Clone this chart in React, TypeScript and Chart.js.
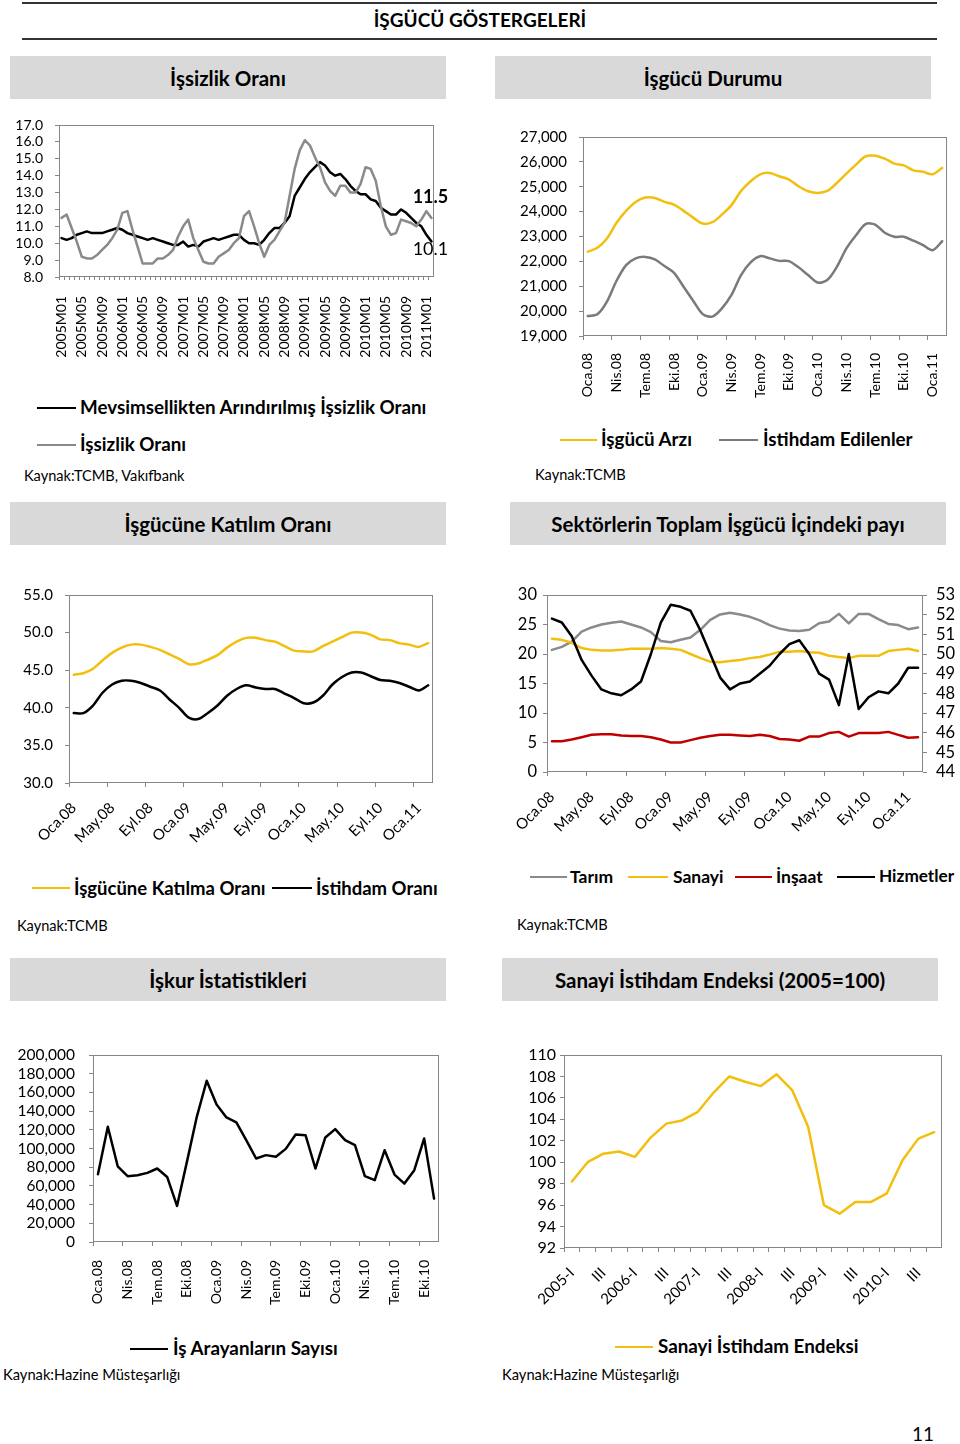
import React, { useEffect, useRef } from 'react';
import { Chart, registerables } from 'chart.js';
Chart.register(...registerables);

const FONT = 'Lato, "Open Sans", sans-serif';
const AX = '#868686';
const YELLOW = '#f2bf0f';
const GRAY = '#8a8a8a';
const DGRAY = '#7a7a7a';
const RED = '#c00000';
const BLACK = '#000000';

// ---------- DATA ----------
const trMonths = ['Oca', 'Şub', 'Mar', 'Nis', 'May', 'Haz', 'Tem', 'Ağu', 'Eyl', 'Eki', 'Kas', 'Ara'];

// Chart 1: İşsizlik Oranı (2005M01 - 2011M02)
const unempYears = [2005, 2006, 2007, 2008, 2009, 2010, 2011];
const unempMonthCount = 74;
const mevsimsel = [10.3, 10.2, 10.3, 10.5, 10.6, 10.7, 10.6, 10.6, 10.6, 10.7, 10.8, 10.9, 10.8, 10.6, 10.5, 10.4, 10.3, 10.2, 10.3, 10.2, 10.1, 10.0, 9.9, 9.9, 10.1, 9.8, 9.9, 9.8, 10.1, 10.2, 10.3, 10.2, 10.3, 10.4, 10.5, 10.5, 10.2, 10.0, 10.0, 9.9, 10.2, 10.6, 10.9, 10.9, 11.2, 11.6, 12.8, 13.3, 13.8, 14.2, 14.5, 14.8, 14.6, 14.2, 14.0, 14.1, 13.8, 13.4, 13.1, 12.9, 12.9, 12.6, 12.5, 12.1, 11.9, 11.7, 11.7, 12.0, 11.8, 11.5, 11.2, 11.0, 10.5, 10.1];
const issizlik = [11.5, 11.7, 10.9, 10.1, 9.2, 9.1, 9.1, 9.3, 9.6, 9.9, 10.3, 10.8, 11.8, 11.9, 10.8, 9.8, 8.8, 8.8, 8.8, 9.1, 9.1, 9.3, 9.6, 10.4, 11.0, 11.4, 10.3, 9.6, 8.9, 8.8, 8.8, 9.2, 9.4, 9.6, 10.0, 10.3, 11.6, 11.9, 11.0, 10.0, 9.2, 9.9, 10.2, 10.7, 11.2, 12.8, 14.4, 15.5, 16.1, 15.8, 15.1, 14.5, 13.6, 13.1, 12.8, 13.4, 13.4, 13.0, 13.0, 13.5, 14.5, 14.4, 13.7, 12.2, 11.0, 10.5, 10.6, 11.4, 11.3, 11.2, 11.0, 11.4, 11.9, 11.5];

// Chart 2: İşgücü Durumu (Oca.08 - Şub.11), bin kişi
const isgucuArzi = [22390, 22545, 22920, 23550, 24030, 24390, 24565, 24550, 24390, 24285, 24030, 23760, 23520, 23575, 23880, 24260, 24830, 25220, 25500, 25555, 25420, 25290, 25020, 24820, 24750, 24830, 25150, 25530, 25890, 26220, 26250, 26130, 25930, 25860, 25660, 25600, 25500, 25760];
const istihdamEdilenler = [19800, 19870, 20380, 21220, 21850, 22120, 22180, 22080, 21810, 21540, 20980, 20420, 19880, 19780, 20110, 20650, 21450, 21960, 22210, 22120, 22020, 22010, 21760, 21450, 21150, 21250, 21780, 22520, 23050, 23500, 23480, 23150, 22990, 22990, 22830, 22650, 22450, 22810];

// Chart 3: İşgücüne Katılım Oranı (Oca.08 - Şub.11)
const katilmaOrani = [44.4, 44.6, 45.2, 46.3, 47.3, 48.0, 48.4, 48.4, 48.1, 47.7, 47.1, 46.5, 45.8, 45.9, 46.4, 47.0, 48.0, 48.8, 49.3, 49.3, 49.0, 48.8, 48.2, 47.6, 47.5, 47.5, 48.2, 48.8, 49.4, 50.0, 50.0, 49.7, 49.1, 49.0, 48.6, 48.4, 48.1, 48.6];
const istihdamOrani = [39.3, 39.3, 40.3, 42.0, 43.1, 43.6, 43.6, 43.3, 42.8, 42.3, 41.1, 40.0, 38.7, 38.5, 39.3, 40.3, 41.6, 42.5, 43.0, 42.7, 42.5, 42.5, 41.9, 41.3, 40.6, 40.7, 41.6, 43.1, 44.1, 44.7, 44.7, 44.2, 43.7, 43.6, 43.3, 42.8, 42.3, 43.0];

// Chart 4: Sektörlerin payı (Oca.08 - Şub.11)
const tarim = [20.7, 21.2, 22.1, 23.8, 24.5, 25.0, 25.3, 25.5, 25.0, 24.5, 23.7, 22.2, 22.0, 22.4, 22.8, 24.1, 25.8, 26.7, 27.0, 26.7, 26.3, 25.7, 24.9, 24.3, 24.0, 23.9, 24.1, 25.2, 25.5, 26.8, 25.2, 26.8, 26.8, 25.9, 25.1, 24.9, 24.2, 24.5];
const sanayi = [22.6, 22.4, 21.9, 21.0, 20.7, 20.6, 20.6, 20.7, 20.9, 20.9, 20.9, 21.0, 20.9, 20.7, 20.0, 19.3, 18.7, 18.6, 18.8, 19.0, 19.3, 19.5, 19.9, 20.4, 20.4, 20.5, 20.3, 20.2, 19.7, 19.5, 19.3, 19.7, 19.7, 19.7, 20.5, 20.7, 20.9, 20.5];
const insaat = [5.2, 5.2, 5.5, 5.9, 6.3, 6.4, 6.4, 6.2, 6.1, 6.1, 5.9, 5.5, 5.0, 5.0, 5.4, 5.8, 6.1, 6.3, 6.3, 6.2, 6.1, 6.3, 6.1, 5.6, 5.5, 5.3, 6.0, 6.0, 6.6, 6.8, 6.0, 6.6, 6.6, 6.6, 6.8, 6.3, 5.8, 5.9];
const hizmetler = [51.8, 51.6, 50.9, 49.7, 48.9, 48.2, 48.0, 47.9, 48.2, 48.6, 50.0, 51.6, 52.5, 52.4, 52.2, 51.2, 50.0, 48.8, 48.2, 48.5, 48.6, 49.0, 49.4, 50.0, 50.5, 50.7, 50.0, 49.0, 48.7, 47.4, 50.0, 47.2, 47.8, 48.1, 48.0, 48.5, 49.3, 49.3];

// Chart 5: İş Arayanların Sayısı (Oca.08 - Kas.10)
const isArayanlar = [72500, 123200, 81000, 70400, 71400, 73900, 78600, 69600, 38600, 85700, 133900, 172500, 147100, 133200, 127900, 108900, 89300, 92900, 91100, 99600, 115000, 114300, 78600, 111800, 120700, 108900, 103600, 70400, 66100, 98200, 72100, 62500, 76800, 110700, 46400];

// Chart 6: Sanayi İstihdam Endeksi (2005-I - 2010-IV)
const quarterYears = ['2005', '2006', '2007', '2008', '2009', '2010'];
const quarterNames = ['I', 'II', 'III', 'IV'];
const sanayiEndeksi = [98.2, 100.0, 100.8, 101.0, 100.5, 102.3, 103.6, 103.9, 104.7, 106.5, 108.0, 107.5, 107.1, 108.2, 106.7, 103.3, 96.0, 95.2, 96.3, 96.3, 97.1, 100.2, 102.2, 102.8];

// ---------- category labels ----------
const unempLabels: string[] = [];
unempYears.forEach((y) => {
  for (let m = 1; m <= 12; m++) unempLabels.push(`${y}M${m < 10 ? '0' + m : m}`);
});
unempLabels.length = unempMonthCount;

function monthLabels(startYY: number, count: number) {
  const out: string[] = [];
  for (let i = 0; i < count; i++) {
    const yy = startYY + Math.floor(i / 12);
    out.push(`${trMonths[i % 12]}.${yy < 10 ? '0' + yy : yy}`);
  }
  return out;
}
const labels38 = monthLabels(8, 38);
const labels35 = monthLabels(8, 35);
const quarterLabels: string[] = [];
quarterYears.forEach((y) => quarterNames.forEach((q, i) => quarterLabels.push(i === 0 ? `${y}-${q}` : q)));

// ---------- helpers ----------
type Rect = { cl: number; ct: number; cr: number; cb: number; L: number; T: number; R: number; B: number };

const framePlugin = {
  id: 'frame',
  beforeDatasetsDraw(chart: any) {
    const { ctx, chartArea: a } = chart;
    ctx.save();
    ctx.strokeStyle = AX;
    ctx.lineWidth = 1;
    const l = Math.round(a.left) + 0.5;
    const t = Math.round(a.top) + 0.5;
    const r = Math.round(a.right) - 0.5;
    const b = Math.round(a.bottom) - 0.5;
    ctx.strokeRect(l, t, r - l, b - t);
    ctx.restore();
  },
};

function xScale(r: Rect, o: { every: number; rot: number; pad: number; size: number; gridEvery: number; tick?: number }) {
  return {
    type: 'category',
    offset: true,
    grid: {
      display: true,
      offset: true,
      drawOnChartArea: false,
      drawTicks: true,
      tickLength: o.tick ?? 4,
      lineWidth: 1,
      color: (c: any) => (typeof c.index === 'number' && c.index % o.gridEvery === 0 ? AX : 'rgba(0,0,0,0)'),
    },
    border: { display: false },
    ticks: {
      autoSkip: false,
      minRotation: o.rot,
      maxRotation: o.rot,
      padding: o.pad,
      color: '#000',
      font: { family: FONT, size: o.size },
      callback: function (this: any, v: any, i: number) {
        return i % o.every === 0 ? this.getLabelForValue(v) : '';
      },
    },
    afterFit(s: any) {
      s.height = r.cb - r.B;
      s.paddingLeft = 0;
      s.paddingRight = 0;
    },
  };
}

function yScale(r: Rect, o: { min: number; max: number; step: number; pad: number; size: number; fmt: (v: number) => string; right?: boolean }) {
  return {
    type: 'linear',
    position: o.right ? 'right' : 'left',
    min: o.min,
    max: o.max,
    grid: { drawOnChartArea: false, drawTicks: true, tickLength: 4, color: AX },
    border: { display: false },
    ticks: {
      autoSkip: false,
      stepSize: o.step,
      padding: o.pad,
      color: '#000',
      font: { family: FONT, size: o.size },
      callback: (v: any) => o.fmt(Number(v)),
    },
    afterFit(s: any) {
      s.width = o.right ? r.cr - r.R : r.L - r.cl;
      s.paddingTop = 0;
      s.paddingBottom = 0;
    },
  };
}

function baseOptions(r: Rect, hasRight: boolean, scales: any) {
  return {
    animation: false,
    responsive: false,
    maintainAspectRatio: false,
    layout: { padding: { left: 0, top: r.T - r.ct, right: hasRight ? 0 : r.cr - r.R, bottom: 0 } },
    plugins: { legend: { display: false }, tooltip: { enabled: false } },
    elements: { point: { radius: 0 }, line: { borderWidth: 2.5, borderJoinStyle: 'round', borderCapStyle: 'round' } },
    scales,
  };
}

const lastLabelPlugin = {
  id: 'lastLabel',
  afterDatasetsDraw(chart: any) {
    const ctx = chart.ctx;
    chart.data.datasets.forEach((ds: any, di: number) => {
      if (!ds.lastLabel) return;
      const meta = chart.getDatasetMeta(di);
      const pt = meta.data[meta.data.length - 1];
      const v = ds.data[ds.data.length - 1];
      ctx.save();
      ctx.fillStyle = '#000';
      ctx.font = `${ds.lastLabel.bold ? 'bold ' : ''}18px ${FONT}`;
      ctx.textAlign = 'center';
      ctx.textBaseline = 'middle';
      ctx.fillText(Number(v).toFixed(1), pt.x + ds.lastLabel.dx, pt.y + ds.lastLabel.dy);
      ctx.restore();
    });
  },
};

function ChartCanvas({ rect, build }: { rect: Rect; build: () => any }) {
  const ref = useRef<HTMLCanvasElement>(null);
  useEffect(() => {
    const c = new Chart(ref.current as HTMLCanvasElement, build());
    return () => c.destroy();
  }, []);
  const w = rect.cr - rect.cl;
  const h = rect.cb - rect.ct;
  return <canvas ref={ref} width={w} height={h} style={{ position: 'absolute', left: rect.cl, top: rect.ct, width: w, height: h }} />;
}

// ---------- chart configs ----------
const r1: Rect = { cl: 10, ct: 112, cr: 458, cb: 365, L: 59, T: 125, R: 434, B: 277 };
const r2: Rect = { cl: 505, ct: 125, cr: 953, cb: 415, L: 583, T: 137, R: 947, B: 336 };
const r3: Rect = { cl: 10, ct: 585, cr: 445, cb: 860, L: 69, T: 595, R: 433, B: 783 };
const r4: Rect = { cl: 505, ct: 585, cr: 960, cb: 860, L: 547, T: 595, R: 923, B: 772 };
const r5: Rect = { cl: 5, ct: 1045, cr: 450, cb: 1320, L: 93, T: 1055, R: 439, B: 1242 };
const r6: Rect = { cl: 505, ct: 1045, cr: 955, cb: 1320, L: 564, T: 1055, R: 942, B: 1248 };

const f1 = (v: number) => v.toFixed(1);
const f0 = (v: number) => String(Math.round(v));
const fc = (v: number) => v.toLocaleString('en-US');

const line = (label: string, data: number[], color: string, order: number, extra: any = {}) => ({
  label, data, borderColor: color, backgroundColor: color, fill: false, order, ...extra,
});

const build1 = () => ({
  type: 'line',
  data: {
    labels: unempLabels,
    datasets: [
      line('İşsizlik Oranı', issizlik, GRAY, 0, { lastLabel: { bold: true, dx: -1, dy: -21 } }),
      line('Mevsimsellikten Arındırılmış İşsizlik Oranı', mevsimsel, BLACK, 1, { lastLabel: { bold: false, dx: -1, dy: 8 } }),
    ],
  },
  options: baseOptions(r1, false, {
    x: xScale(r1, { every: 4, rot: 90, pad: 16, size: 14, gridEvery: 1, tick: 3 }),
    y: yScale(r1, { min: 8, max: 17, step: 1, pad: 12, size: 14, fmt: f1 }),
  }),
  plugins: [framePlugin, lastLabelPlugin],
});

const build2 = () => ({
  type: 'line',
  data: {
    labels: labels38,
    datasets: [
      line('İşgücü Arzı', isgucuArzi, YELLOW, 1, { tension: 0.3 }),
      line('İstihdam Edilenler', istihdamEdilenler, DGRAY, 0, { tension: 0.3 }),
    ],
  },
  options: baseOptions(r2, false, {
    x: xScale(r2, { every: 3, rot: 90, pad: 13, size: 14, gridEvery: 3 }),
    y: yScale(r2, { min: 19000, max: 27000, step: 1000, pad: 12, size: 15, fmt: fc }),
  }),
  plugins: [framePlugin],
});

const build3 = () => ({
  type: 'line',
  data: {
    labels: labels38,
    datasets: [
      line('İşgücüne Katılma Oranı', katilmaOrani, YELLOW, 1, { tension: 0.3 }),
      line('İstihdam Oranı', istihdamOrani, BLACK, 0, { tension: 0.3 }),
    ],
  },
  options: baseOptions(r3, false, {
    x: xScale(r3, { every: 4, rot: 45, pad: 12, size: 15, gridEvery: 4 }),
    y: yScale(r3, { min: 30, max: 55, step: 5, pad: 12, size: 15, fmt: f1 }),
  }),
  plugins: [framePlugin],
});

const build4 = () => ({
  type: 'line',
  data: {
    labels: labels38,
    datasets: [
      line('Tarım', tarim, GRAY, 3, { yAxisID: 'y' }),
      line('Sanayi', sanayi, YELLOW, 2, { yAxisID: 'y' }),
      line('İnşaat', insaat, RED, 1, { yAxisID: 'y' }),
      line('Hizmetler', hizmetler, BLACK, 0, { yAxisID: 'y1' }),
    ],
  },
  options: baseOptions(r4, true, {
    x: xScale(r4, { every: 4, rot: 45, pad: 12, size: 15, gridEvery: 4 }),
    y: yScale(r4, { min: 0, max: 30, step: 5, pad: 6, size: 16.5, fmt: f0 }),
    y1: yScale(r4, { min: 44, max: 53, step: 1, pad: 9, size: 16.5, fmt: f0, right: true }),
  }),
  plugins: [framePlugin],
});

const build5 = () => ({
  type: 'line',
  data: {
    labels: labels35,
    datasets: [line('İş Arayanların Sayısı', isArayanlar, BLACK, 0)],
  },
  options: baseOptions(r5, false, {
    x: xScale(r5, { every: 3, rot: 90, pad: 14, size: 14, gridEvery: 3 }),
    y: yScale(r5, { min: 0, max: 200000, step: 20000, pad: 14, size: 15.5, fmt: fc }),
  }),
  plugins: [framePlugin],
});

const build6 = () => ({
  type: 'line',
  data: {
    labels: quarterLabels,
    datasets: [line('Sanayi İstihdam Endeksi', sanayiEndeksi, YELLOW, 0)],
  },
  options: baseOptions(r6, false, {
    x: xScale(r6, { every: 2, rot: 45, pad: 12, size: 15, gridEvery: 1 }),
    y: yScale(r6, { min: 92, max: 110, step: 2, pad: 4, size: 16, fmt: f0 }),
  }),
  plugins: [framePlugin],
});

// ---------- HTML pieces ----------
function Txt({ x, y, size, bold, children }: { x: number; y: number; size: number; bold?: boolean; children: any }) {
  return (
    <div
      style={{
        position: 'absolute', left: x, top: y - size * 0.62, fontSize: size, lineHeight: `${size * 1.2}px`,
        fontWeight: bold ? 700 : 400, whiteSpace: 'nowrap', color: '#000', fontFamily: FONT,
      }}
    >
      {children}
    </div>
  );
}

function LegLine({ x1, x2, y, color }: { x1: number; x2: number; y: number; color: string }) {
  return <div style={{ position: 'absolute', left: x1, top: y - 1.25, width: x2 - x1, height: 2.5, background: color }} />;
}

function Header({ x, y, text }: { x: number; y: number; text: string }) {
  return (
    <div
      style={{
        position: 'absolute', left: x, top: y, width: 436, height: 43, background: '#d9d9d9', display: 'flex',
        alignItems: 'center', justifyContent: 'center', fontFamily: FONT, fontWeight: 700, fontSize: 20.5, color: '#000',
      }}
    >
      {text}
    </div>
  );
}

export default function App() {
  return (
    <div style={{ position: 'absolute', left: 0, top: 0, width: 960, height: 1444, background: '#fff', fontFamily: FONT, overflow: 'hidden' }}>
      <div style={{ position: 'absolute', left: 22, top: 2, width: 915, height: 1.5, background: '#333' }} />
      <div style={{ position: 'absolute', left: 0, top: 8, width: 960, textAlign: 'center', fontSize: 19, fontWeight: 700, lineHeight: '24px' }}>İŞGÜCÜ GÖSTERGELERİ</div>
      <div style={{ position: 'absolute', left: 22, top: 38, width: 915, height: 1.5, background: '#333' }} />

      <Header x={10} y={56} text="İşsizlik Oranı" />
      <Header x={495} y={56} text="İşgücü Durumu" />
      <Header x={10} y={502} text="İşgücüne Katılım Oranı" />
      <Header x={510} y={502} text="Sektörlerin Toplam İşgücü İçindeki payı" />
      <Header x={10} y={958} text="İşkur İstatistikleri" />
      <Header x={502} y={958} text="Sanayi İstihdam Endeksi (2005=100)" />

      <ChartCanvas rect={r1} build={build1} />
      <ChartCanvas rect={r2} build={build2} />
      <ChartCanvas rect={r3} build={build3} />
      <ChartCanvas rect={r4} build={build4} />
      <ChartCanvas rect={r5} build={build5} />
      <ChartCanvas rect={r6} build={build6} />

      {/* legend 1 */}
      <LegLine x1={37} x2={76} y={408} color={BLACK} />
      <Txt x={80} y={408} size={18.8} bold>Mevsimsellikten Arındırılmış İşsizlik Oranı</Txt>
      <LegLine x1={37} x2={76} y={445} color={GRAY} />
      <Txt x={80} y={445} size={18.8} bold>İşsizlik Oranı</Txt>
      <Txt x={24} y={476} size={14.6}>Kaynak:TCMB, Vakıfbank</Txt>

      {/* legend 2 */}
      <LegLine x1={560} x2={597} y={440} color={YELLOW} />
      <Txt x={601} y={440} size={18.8} bold>İşgücü Arzı</Txt>
      <LegLine x1={719} x2={758} y={440} color={DGRAY} />
      <Txt x={763} y={440} size={18.8} bold>İstihdam Edilenler</Txt>
      <Txt x={535} y={475} size={14.6}>Kaynak:TCMB</Txt>

      {/* legend 3 */}
      <LegLine x1={32} x2={70} y={888} color={YELLOW} />
      <Txt x={74} y={888} size={18.5} bold>İşgücüne Katılma Oranı</Txt>
      <LegLine x1={272} x2={312} y={888} color={BLACK} />
      <Txt x={316} y={888} size={18.5} bold>İstihdam Oranı</Txt>
      <Txt x={17} y={926} size={14.6}>Kaynak:TCMB</Txt>

      {/* legend 4 */}
      <LegLine x1={530} x2={567} y={877} color={GRAY} />
      <Txt x={570} y={877} size={17.5} bold>Tarım</Txt>
      <LegLine x1={628} x2={668} y={877} color={YELLOW} />
      <Txt x={673} y={877} size={17.5} bold>Sanayi</Txt>
      <LegLine x1={735} x2={772} y={877} color={RED} />
      <Txt x={776} y={877} size={17.5} bold>İnşaat</Txt>
      <LegLine x1={837} x2={875} y={877} color={BLACK} />
      <Txt x={879} y={877} size={17.2} bold>Hizmetler</Txt>
      <Txt x={517} y={925} size={14.6}>Kaynak:TCMB</Txt>

      {/* legend 5 */}
      <LegLine x1={130} x2={168} y={1349} color={BLACK} />
      <Txt x={173} y={1349} size={18.8} bold>İş Arayanların Sayısı</Txt>
      <Txt x={3} y={1375} size={14.7}>Kaynak:Hazine Müsteşarlığı</Txt>

      {/* legend 6 */}
      <LegLine x1={615} x2={653} y={1347} color={YELLOW} />
      <Txt x={658} y={1347} size={18.8} bold>Sanayi İstihdam Endeksi</Txt>
      <Txt x={502} y={1375} size={14.7}>Kaynak:Hazine Müsteşarlığı</Txt>

      <Txt x={912} y={1435} size={19}>11</Txt>
    </div>
  );
}
